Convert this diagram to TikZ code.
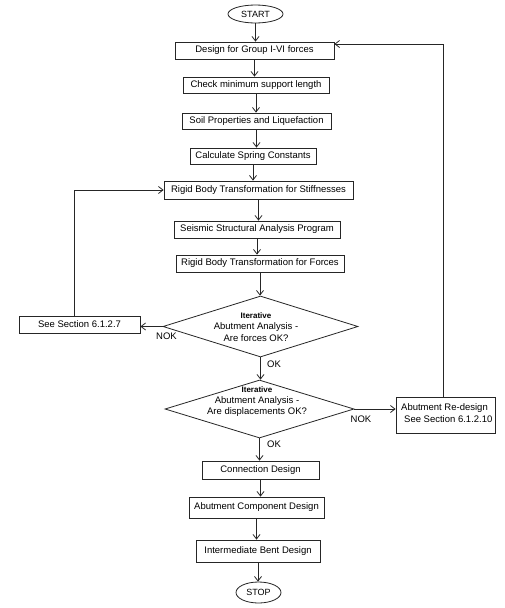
\documentclass[tikz,border=0pt]{standalone}
\usepackage{fontspec}
\setmainfont{Liberation Sans}
\usetikzlibrary{shapes.geometric,arrows.meta,calc}
\newcommand\itrfont{\fontsize{8}{9}\selectfont\bfseries}
\begin{document}
\begin{tikzpicture}[x=1pt,y=-1pt,
  box/.style={draw=black!85, line width=0.8pt, rectangle, inner sep=0pt, font=\fontsize{9.5}{11.4}\selectfont},
  term/.style={draw=black!85, line width=0.8pt, ellipse, inner sep=0pt, font=\fontsize{9}{11}\selectfont},
  dia/.style={draw=black!85, line width=0.8pt, diamond, inner sep=0pt},
  diatext/.style={align=center, inner sep=0pt, font=\fontsize{9.5}{11.2}\selectfont},
  arr/.style={draw=black!85, line width=0.8pt, -{Straight Barb[length=4.5pt,width=7pt]}},
  ln/.style={draw=black!85, line width=0.8pt},
  lbl/.style={inner sep=0pt, font=\fontsize{9.5}{11}\selectfont}]
\useasboundingbox (0,0) rectangle (504,608);
\fill[white] (0,0) rectangle (504,608);

\node[term, minimum width=55pt, minimum height=18pt] (start) at (255.5,14) {START};
\node[box, minimum width=159pt, minimum height=17pt] (design) at (254.5,50.5) {Design for Group I-VI forces};
\node[box, minimum width=146pt, minimum height=16pt] (check) at (256,85) {Check minimum support length};
\node[box, minimum width=149pt, minimum height=16pt] (soil) at (256.5,121) {Soil Properties and Liquefaction};
\node[box, minimum width=126pt, minimum height=16pt] (calc) at (253,156) {Calculate Spring Constants};
\node[box, minimum width=189pt, minimum height=18pt] (rigidS) at (258.5,190) {Rigid Body Transformation for Stiffnesses};
\node[box, minimum width=166pt, minimum height=17pt] (seis) at (257,229.5) {Seismic Structural Analysis Program};
\node[box, minimum width=168pt, minimum height=17pt] (rigidF) at (260,263.5) {Rigid Body Transformation for Forces};

\node[dia, minimum width=195pt, minimum height=61pt] (d1) at (260.5,326.5) {};
\node[diatext] (d1t) at (256,327) {{\itrfont Iterative}\\Abutment Analysis -\\Are forces OK?};
\node[box, minimum width=121pt, minimum height=17pt] (see) at (79.5,324.5) {See Section 6.1.2.7};

\node[dia, minimum width=189pt, minimum height=58pt] (d2) at (259.5,409) {};
\node[diatext] (d2t) at (257,401.5) {{\itrfont Iterative}\\Abutment Analysis -\\Are displacements OK?};
\node[box, minimum width=99pt, minimum height=36pt] (redes) at (445.5,415) {};
\node[anchor=west, align=left, inner sep=0pt, font=\fontsize{9.5}{12}\selectfont] (redest) at (401,413) {Abutment Re-design\\\hspace*{3pt}See Section 6.1.2.10};

\node[box, minimum width=117pt, minimum height=18pt] (conn) at (260.5,470) {Connection Design};
\node[box, minimum width=135pt, minimum height=21pt] (comp) at (256.5,507.5) {Abutment Component Design};
\node[box, minimum width=124pt, minimum height=22pt] (inter) at (258,551) {Intermediate Bent Design};
\node[term, minimum width=45pt, minimum height=21pt] (stop) at (258.5,592.5) {STOP};

\draw[arr] (start.south) -- (start.south |- design.north);
\draw[arr] (design.south) -- (design.south |- check.north);
\draw[arr] (check.south) -- (check.south |- soil.north);
\draw[arr] (soil.south) -- (soil.south |- calc.north);
\draw[arr] (calc.south) -- (calc.south |- rigidS.north);
\draw[arr] (rigidS.south) -- (rigidS.south |- seis.north);
\draw[arr] (seis.south) -- (seis.south |- rigidF.north);
\draw[arr] (rigidF.south) -- (rigidF.south |- d1.north);
\draw[arr] (d1.west) -- (d1.west -| see.east);
\draw[arr] ([xshift=-5.5pt]see.north) |- (rigidS.west);
\draw[arr] (d1.south) -- (d1.south |- d2.north);
\draw[arr] (d2.east) -- (d2.east -| redes.west);
\draw[arr] ([xshift=-2.5pt]redes.north) |- ([yshift=6.5pt]design.east);
\draw[arr] (d2.south) -- (d2.south |- conn.north);
\draw[arr] (conn.south) -- (conn.south |- comp.north);
\draw[arr] (comp.south) -- (comp.south |- inter.north);
\draw[arr] (inter.south) -- (inter.south |- stop.north);

\node[lbl] (nok1) at (166.5,336) {NOK};
\node[lbl] (ok1) at (274,364) {OK};
\node[lbl] (nok2) at (361,419) {NOK};
\node[lbl] (ok2) at (274,444) {OK};
\end{tikzpicture}
\end{document}
